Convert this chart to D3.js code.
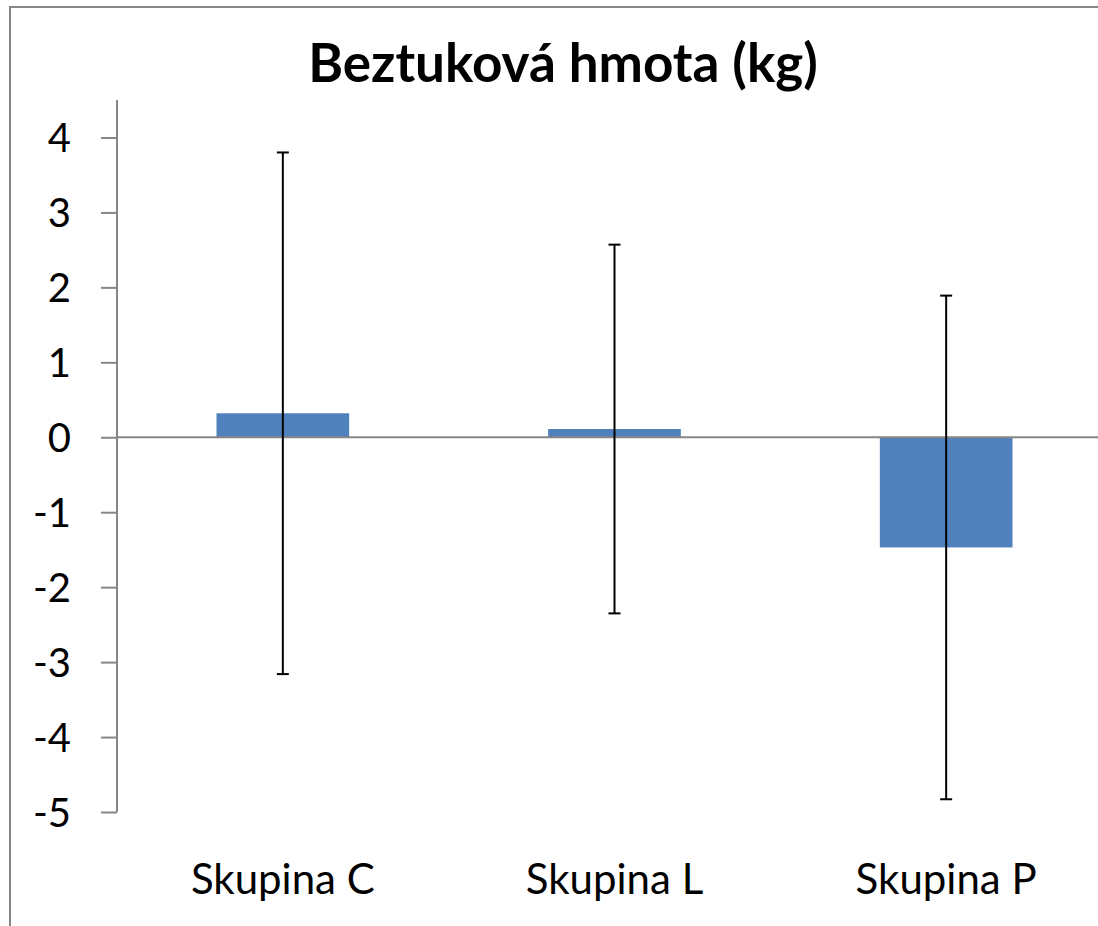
<!DOCTYPE html>
<html>
<head>
<meta charset="utf-8">
<script src="https://cdn.jsdelivr.net/npm/d3@7"></script>
<style>
  body { margin: 0; background: #fff; }
  svg { display: block; }
  .tick text { font-family: Lato, "Open Sans", sans-serif; fill: #000; }
</style>
</head>
<body>
<div id="chart"></div>
<script>
// Data
var categories = ["Skupina C", "Skupina L", "Skupina P"];
var means = [0.32, 0.11, -1.47];
var errors = [3.48, 2.46, 3.36];
var yTicks = [-5, -4, -3, -2, -1, 0, 1, 2, 3, 4];
var title = "Beztuková hmota (kg)";

var W = 1098, H = 926;
var margin = { top: 100, left: 117 };
var plotW = 995, plotH = 712;

var svg = d3.select("#chart").append("svg")
    .attr("width", W)
    .attr("height", H);

// chart frame (cropped on the right and bottom)
svg.append("rect")
    .attr("x", 10).attr("y", 7)
    .attr("width", 1200).attr("height", 1000)
    .attr("fill", "none")
    .attr("stroke", "#868686")
    .attr("stroke-width", 2);

svg.append("text")
    .attr("x", 563).attr("y", 82)
    .attr("text-anchor", "middle")
    .attr("font-family", "Lato, 'Open Sans', sans-serif")
    .attr("font-weight", "bold")
    .attr("font-size", 53)
    .text(title);

var g = svg.append("g")
    .attr("transform", "translate(" + margin.left + "," + margin.top + ")");

var x = d3.scaleBand().domain(categories).range([0, plotW]).paddingInner(0.6).paddingOuter(0.3);
var y = d3.scaleLinear().domain([-5, 4.5]).range([plotH, 0]);

// y axis
var yAxis = g.append("g")
    .call(d3.axisLeft(y).tickValues(yTicks).tickSize(16).tickPadding(30).tickFormat(function(d) { return String(d); }));
yAxis.select(".domain").attr("stroke", "#868686").attr("stroke-width", 2).attr("d", "M0," + y(-5) + "V0");
yAxis.selectAll(".tick line").attr("stroke", "#868686").attr("stroke-width", 2);
yAxis.selectAll(".tick text").attr("font-size", 40).attr("dy", "0.36em");

// bars
g.selectAll("rect.bar")
    .data(means)
    .enter().append("rect")
    .attr("class", "bar")
    .attr("x", function(d, i) { return x(categories[i]); })
    .attr("width", x.bandwidth())
    .attr("y", function(d) { return y(Math.max(0, d)); })
    .attr("height", function(d) { return Math.abs(y(d) - y(0)); })
    .attr("fill", "#4f81bd");

// zero line
g.append("line")
    .attr("x1", 0).attr("x2", plotW)
    .attr("y1", y(0)).attr("y2", y(0))
    .attr("stroke", "#868686").attr("stroke-width", 2);

// error bars
var eb = g.selectAll("g.err")
    .data(means)
    .enter().append("g")
    .attr("class", "err")
    .attr("transform", function(d, i) { return "translate(" + (x(categories[i]) + x.bandwidth() / 2) + ",0)"; });
eb.append("line")
    .attr("y1", function(d, i) { return y(d + errors[i]); })
    .attr("y2", function(d, i) { return y(d - errors[i]); })
    .attr("stroke", "#000").attr("stroke-width", 2);
eb.append("line")
    .attr("x1", -6).attr("x2", 6)
    .attr("y1", function(d, i) { return y(d + errors[i]); })
    .attr("y2", function(d, i) { return y(d + errors[i]); })
    .attr("stroke", "#000").attr("stroke-width", 2);
eb.append("line")
    .attr("x1", -6).attr("x2", 6)
    .attr("y1", function(d, i) { return y(d - errors[i]); })
    .attr("y2", function(d, i) { return y(d - errors[i]); })
    .attr("stroke", "#000").attr("stroke-width", 2);

// category labels
var xAxis = g.append("g")
    .attr("transform", "translate(0," + plotH + ")")
    .call(d3.axisBottom(x).tickSize(0).tickPadding(52));
xAxis.select(".domain").remove();
xAxis.selectAll(".tick text").attr("font-size", 42);
</script>
</body>
</html>
